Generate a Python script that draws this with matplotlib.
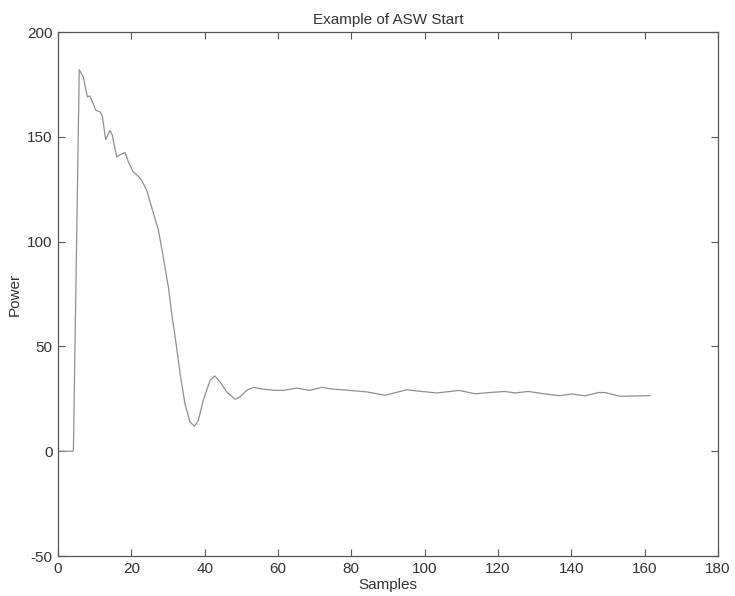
import matplotlib
matplotlib.use("Agg")
import matplotlib.pyplot as plt

plt.rcParams['font.family'] = ['Liberation Sans', 'DejaVu Sans']
plt.rcParams['axes.unicode_minus'] = False

samples = [0.3, 4.0, 4.2, 5.8, 6.9, 8.0, 8.7, 9.2, 10.3, 11.5, 12.1, 13.0, 14.2, 14.8,
           16.0, 17.0, 18.3, 19.2, 20.5, 21.7, 22.8, 24.2, 25.5, 27.4, 28.7, 30.1, 31.0,
           32.2, 33.3, 34.6, 36.0, 37.2, 38.3, 39.6, 41.5, 42.8, 44.2, 46.0, 48.3,
           49.6, 51.5, 53.3, 56.0, 58.7, 61.4, 65.1, 68.7, 71.9, 74.6, 79.6, 84.2,
           89.2, 95.1, 98.7, 103.3, 109.4, 113.8, 117.8, 121.9, 124.6, 128.3,
           133.3, 136.9, 140.1, 143.7, 147.4, 149.1, 153.3, 161.4]
power = [0.0, 0.0, 0.5, 182.0, 178.6, 169.0, 169.5, 167.5, 162.7, 161.9, 159.8, 148.7,
         153.0, 150.8, 140.4, 141.5, 142.5, 138.0, 133.3, 131.5, 129.3, 124.5, 116.6, 105.4,
         92.7, 78.4, 65.7, 51.4, 37.0, 22.8, 14.0, 11.9, 14.8, 24.3, 33.9, 35.9, 33.0,
         28.3, 24.8, 25.9, 29.1, 30.4, 29.6, 29.1, 29.0, 30.1, 29.0, 30.5, 29.7,
         29.0, 28.3, 26.7, 29.3, 28.6, 27.8, 29.0, 27.4, 28.0, 28.5, 27.8, 28.5,
         27.2, 26.5, 27.3, 26.4, 28.0, 28.0, 26.2, 26.5]

title = "Example of ASW Start"
xlabel = "Samples"
ylabel = "Power"
xticks = [0, 20, 40, 60, 80, 100, 120, 140, 160, 180]
yticks = [-50, 0, 50, 100, 150, 200]

fig = plt.figure(figsize=(7.35, 5.96), dpi=100)
ax = fig.add_axes([0.0789, 0.0671, 0.898, 0.8792])
ax.plot(samples, power, color='#8f8f8f', linewidth=0.9)
ax.set_xlim(0, 180)
ax.set_ylim(-50, 200)
ax.set_xticks(xticks)
ax.set_yticks(yticks)
ax.tick_params(direction='in', top=True, right=True, labelsize=11, length=5,
               color='#555555', labelcolor='#333333', pad=4)
for s in ax.spines.values():
    s.set_color('#555555')
    s.set_linewidth(0.9)
ax.set_title(title, fontsize=11, color='#333333', pad=6)
ax.set_xlabel(xlabel, fontsize=11, color='#333333', labelpad=2)
ax.set_ylabel(ylabel, fontsize=11, color='#333333', labelpad=4)
fig.savefig("out.png", dpi=100)
